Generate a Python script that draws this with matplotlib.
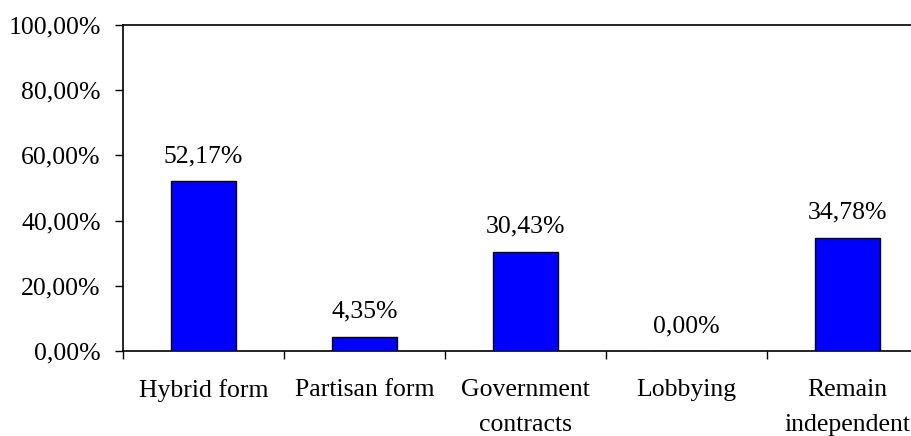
import numpy as np
import matplotlib.pyplot as plt

categorias = ['Hybrid form', 'Partisan form', 'Government\ncontracts', 'Lobbying', 'Remain\nindependent']
valores = [52.17, 4.35, 30.43, 0.00, 34.78]
yticks = [0, 20, 40, 60, 80, 100]

plt.rcParams['font.family'] = ['Liberation Serif', 'DejaVu Serif']
fs = 18.5

fig = plt.figure(figsize=(9.12, 4.36), dpi=100)
ax = fig.add_axes([123 / 912, 1 - 351 / 436, 805 / 912, 326 / 436])

x = np.arange(len(categorias))
bars = ax.bar(x, valores, width=0.4, color='#0000FF', edgecolor='black', linewidth=1.0, zorder=3)

for xi, v in zip(x, valores):
    ax.annotate(f'{v:.2f}%'.replace('.', ','), xy=(xi, v), xytext=(0, 10),
                textcoords='offset points', ha='center', va='bottom', fontsize=fs)

ax.set_xlim(-0.5, len(categorias) - 0.5)
ax.set_ylim(0, 100)

ax.set_yticks(yticks)
ax.set_yticklabels([f'{t:.2f}%'.replace('.', ',') for t in yticks], fontsize=fs)
ax.tick_params(axis='y', direction='out', length=6, width=1, pad=10)

# category names centered, tick marks only at the boundaries between categories
ax.set_xticks(x)
ax.set_xticklabels(categorias, fontsize=fs, linespacing=1.8, va='top')
ax.tick_params(axis='x', which='major', length=0, pad=20)
ax.set_xticks(np.arange(-0.5, len(categorias)), minor=True)
ax.tick_params(axis='x', which='minor', direction='out', length=6, width=1)

ax.spines['right'].set_visible(False)
for s in ['left', 'top', 'bottom']:
    ax.spines[s].set_linewidth(1.2)

plt.savefig('out.png', dpi=100)
